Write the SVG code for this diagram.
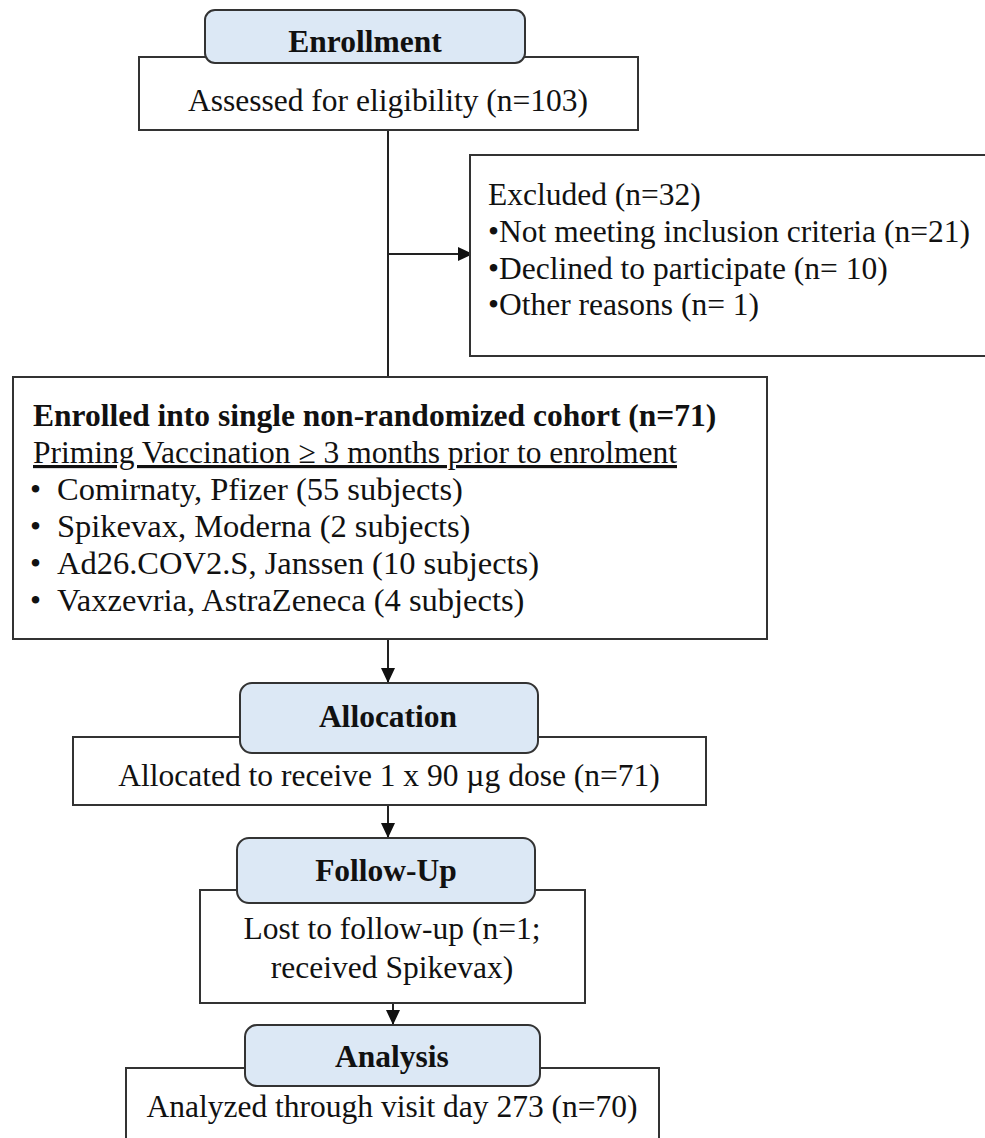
<svg xmlns="http://www.w3.org/2000/svg" width="985" height="1138" viewBox="0 0 985 1138">
<defs>
<style>
.box{fill:#fff;stroke:#333;stroke-width:2}
.hdr{fill:#dce8f5;stroke:#333;stroke-width:2}
.t{font-family:"Liberation Serif","Times New Roman",serif;font-size:31.5px;fill:#111}
.b{font-family:"Liberation Serif","Times New Roman",serif;font-size:31.5px;font-weight:bold;fill:#111}
.li{font-size:32.5px}
.c{text-anchor:middle}
.ln{stroke:#222;stroke-width:2;fill:none}
</style>
<marker id="ah" markerUnits="userSpaceOnUse" markerWidth="16" markerHeight="16" refX="15" refY="8" orient="auto">
<path d="M0,1 L15,8 L0,15 Z" fill="#111"/>
</marker>
</defs>
<rect width="985" height="1138" fill="#fff"/>

<g id="connectors">
<line class="ln" x1="388" y1="130" x2="388" y2="377"/>
<line class="ln" x1="388" y1="254" x2="473" y2="254" marker-end="url(#ah)"/>
<line class="ln" x1="388" y1="639" x2="388" y2="683" marker-end="url(#ah)"/>
<line class="ln" x1="388" y1="805" x2="388" y2="838" marker-end="url(#ah)"/>
<line class="ln" x1="393" y1="1003" x2="393" y2="1025" marker-end="url(#ah)"/>
</g>

<g id="assessed">
<rect class="box" x="139" y="57" width="499" height="73"/>
<text class="t c" x="388" y="111">Assessed for eligibility (n=103)</text>
</g>
<g id="enrollment">
<rect class="hdr" x="205" y="10" width="320" height="53" rx="10"/>
<text class="b c" x="365" y="52">Enrollment</text>
</g>

<g id="excluded">
<rect class="box" x="470" y="155" width="530" height="201"/>
<text class="t" x="488" y="205">Excluded (n=32)</text>
<text class="t" x="488" y="242">•Not meeting inclusion criteria (n=21)</text>
<text class="t" x="488" y="279">•Declined to participate (n= 10)</text>
<text class="t" x="488" y="315">•Other reasons (n= 1)</text>
</g>

<g id="enrolled">
<rect class="box" x="13" y="377" width="754" height="262"/>
<text class="b" x="33" y="426">Enrolled into single non-randomized cohort (n=71)</text>
<text class="t" x="33" y="463" text-decoration="underline">Priming Vaccination ≥ 3 months prior to enrolment</text>
<text class="t" x="30" y="500">•</text><text class="t li" x="57" y="500">Comirnaty, Pfizer (55 subjects)</text>
<text class="t" x="30" y="537">•</text><text class="t li" x="57" y="537">Spikevax, Moderna (2 subjects)</text>
<text class="t" x="30" y="574">•</text><text class="t li" x="57" y="574">Ad26.COV2.S, Janssen (10 subjects)</text>
<text class="t" x="30" y="611">•</text><text class="t li" x="57" y="611">Vaxzevria, AstraZeneca (4 subjects)</text>
</g>

<g id="allocated">
<rect class="box" x="73" y="737" width="633" height="68"/>
<text class="t c" x="389" y="786">Allocated to receive 1 x 90 µg dose (n=71)</text>
</g>
<g id="allocation">
<rect class="hdr" x="240" y="683" width="298" height="70" rx="12"/>
<text class="b c" x="388" y="727">Allocation</text>
</g>

<g id="lost">
<rect class="box" x="200" y="890" width="385" height="113"/>
<text class="t c" x="392" y="939">Lost to follow-up (n=1;</text>
<text class="t c" x="392" y="978">received Spikevax)</text>
</g>
<g id="followup">
<rect class="hdr" x="237" y="838" width="298" height="65" rx="12"/>
<text class="b c" x="386" y="881">Follow-Up</text>
</g>

<g id="analyzed">
<rect class="box" x="126" y="1068" width="533" height="80"/>
<text class="t c" x="392" y="1117">Analyzed through visit day 273 (n=70)</text>
</g>
<g id="analysis">
<rect class="hdr" x="245" y="1025" width="295" height="61" rx="12"/>
<text class="b c" x="392" y="1067">Analysis</text>
</g>
</svg>
